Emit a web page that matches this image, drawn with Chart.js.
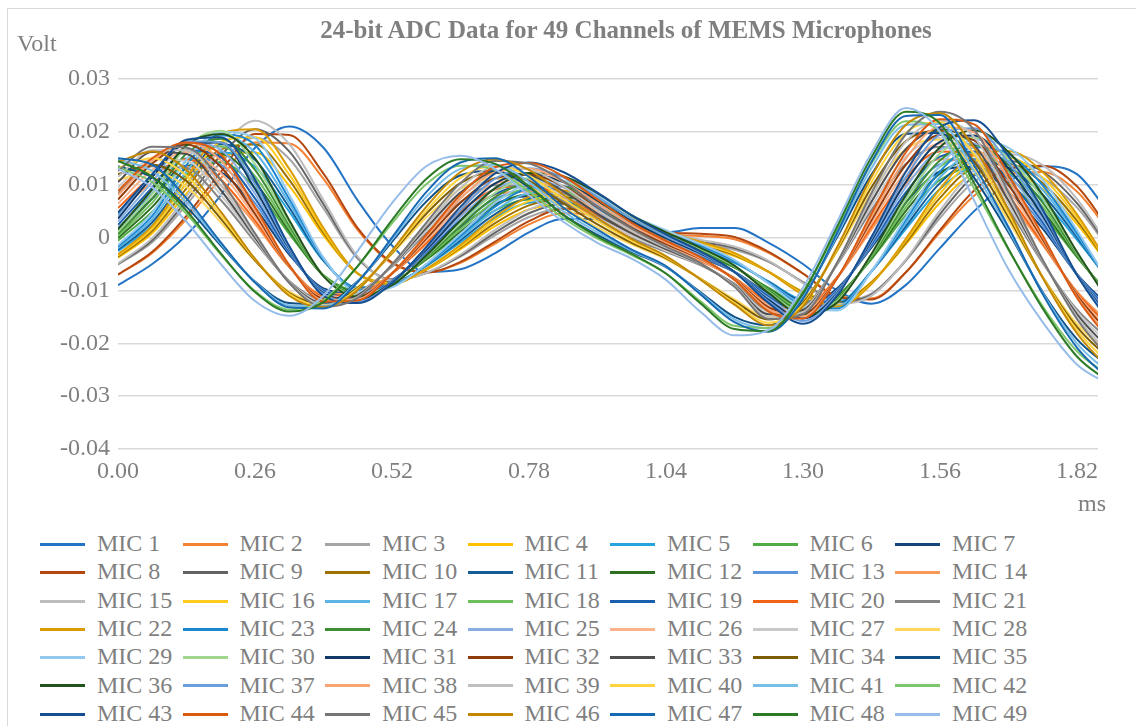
<!DOCTYPE html>
<html>
<head>
<meta charset="utf-8">
<title>24-bit ADC Data for 49 Channels of MEMS Microphones</title>
<script src="https://cdn.jsdelivr.net/npm/chart.js"></script>
<style>
    body { margin: 0; background: #fff; }
    #wrap { position: relative; width: 1136px; height: 726px; overflow: hidden; font-family: "Liberation Serif", serif; color: #7f7f7f; }
    #frame { position: absolute; left: 7px; top: 8px; width: 1300px; height: 900px; border-left: 1px solid #d9d9d9; border-top: 1px solid #d9d9d9; }
    #chart { position: absolute; left: 0; top: 0; }
    #title { position: absolute; left: 0; top: 16px; width: 1252px; text-align: center; font-weight: bold; font-size: 25px; line-height: 28px; white-space: nowrap; }
    #yUnit { position: absolute; left: 17px; top: 29px; font-size: 24px; line-height: 28px; }
    #xUnit { position: absolute; left: 1078px; top: 489px; font-size: 24px; line-height: 28px; }
    .item { position: absolute; height: 26px; line-height: 26px; font-size: 24px; white-space: nowrap; }
    .swatch { display: inline-block; width: 45px; height: 3px; vertical-align: middle; margin-right: 12px; position: relative; top: -1px; }
</style>
</head>
<body>
<div id="wrap">
    <div id="frame"></div>
    <canvas id="chart" width="1136" height="500"></canvas>
    <div id="title">24-bit ADC Data for 49 Channels of MEMS Microphones</div>
    <div id="yUnit">Volt</div>
    <div id="xUnit">ms</div>
    <div id="legend"></div>
</div>
<script>
const timeMs = [0, 0.065, 0.13, 0.195, 0.26, 0.325, 0.39, 0.455, 0.52, 0.585, 0.65, 0.715, 0.78, 0.845, 0.91, 0.975, 1.04, 1.105, 1.17, 1.235, 1.3, 1.365, 1.43, 1.495, 1.56, 1.625, 1.69, 1.755, 1.82, 1.885];
const xTickValues = [0, 0.26, 0.52, 0.78, 1.04, 1.30, 1.56, 1.82];
const yTickValues = [-0.04, -0.03, -0.02, -0.01, 0, 0.01, 0.02, 0.03];

const MIC_1 = [-0.0090,-0.0050,0.0005,0.0080,0.0170,0.0210,0.0170,0.0070,-0.0015,-0.0065,-0.0060,-0.0030,0.0010,0.0035,0.0035,0.0015,0.0010,0.0018,0.0018,-0.0010,-0.0050,-0.0100,-0.0125,-0.0090,-0.0020,0.0050,0.0105,0.0135,0.0120,0.0040];
const MIC_2 = [-0.0070,-0.0029,0.0035,0.0112,0.0180,0.0178,0.0111,0.0014,-0.0049,-0.0066,-0.0048,-0.0012,0.0025,0.0046,0.0042,0.0017,0.0006,0.0003,-0.0003,-0.0029,-0.0068,-0.0110,-0.0115,-0.0066,0.0010,0.0079,0.0119,0.0124,0.0087,0.0006];
const MIC_3 = [-0.0051,-0.0009,0.0062,0.0142,0.0189,0.0149,0.0055,-0.0040,-0.0079,-0.0067,-0.0036,0.0004,0.0039,0.0056,0.0048,0.0019,0.0001,-0.0012,-0.0023,-0.0046,-0.0084,-0.0119,-0.0106,-0.0044,0.0037,0.0106,0.0132,0.0113,0.0057,-0.0027];
const MIC_4 = [-0.0038,0.0008,0.0083,0.0152,0.0161,0.0098,0.0004,-0.0068,-0.0084,-0.0061,-0.0022,0.0021,0.0053,0.0063,0.0049,0.0019,-0.0001,-0.0018,-0.0035,-0.0065,-0.0102,-0.0121,-0.0084,-0.0013,0.0066,0.0120,0.0126,0.0092,0.0026,-0.0059];
const MIC_5 = [-0.0026,0.0023,0.0102,0.0162,0.0134,0.0049,-0.0044,-0.0094,-0.0088,-0.0054,-0.0009,0.0037,0.0066,0.0069,0.0049,0.0018,-0.0004,-0.0024,-0.0048,-0.0083,-0.0118,-0.0122,-0.0064,0.0016,0.0092,0.0131,0.0120,0.0071,-0.0004,-0.0087];
const MIC_6 = [-0.0006,0.0049,0.0119,0.0143,0.0094,0.0007,-0.0071,-0.0100,-0.0084,-0.0042,0.0006,0.0051,0.0072,0.0068,0.0044,0.0014,-0.0010,-0.0031,-0.0057,-0.0095,-0.0126,-0.0109,-0.0041,0.0042,0.0109,0.0133,0.0102,0.0043,-0.0037,-0.0112];
const MIC_7 = [0.0013,0.0074,0.0136,0.0124,0.0056,-0.0032,-0.0096,-0.0106,-0.0080,-0.0032,0.0020,0.0063,0.0078,0.0066,0.0039,0.0008,-0.0016,-0.0038,-0.0065,-0.0106,-0.0133,-0.0096,-0.0019,0.0066,0.0125,0.0134,0.0086,0.0017,-0.0069,-0.0135];
const MIC_8 = [-0.0070,-0.0027,0.0041,0.0124,0.0196,0.0194,0.0121,0.0018,-0.0047,-0.0066,-0.0046,-0.0008,0.0031,0.0054,0.0048,0.0023,0.0010,0.0007,0.0001,-0.0027,-0.0068,-0.0112,-0.0117,-0.0066,0.0014,0.0089,0.0131,0.0136,0.0097,0.0010];
const MIC_9 = [-0.0050,-0.0005,0.0070,0.0155,0.0205,0.0163,0.0063,-0.0038,-0.0080,-0.0067,-0.0034,0.0009,0.0046,0.0064,0.0055,0.0025,0.0005,-0.0008,-0.0020,-0.0045,-0.0085,-0.0122,-0.0108,-0.0043,0.0044,0.0117,0.0145,0.0125,0.0065,-0.0025];
const MIC_10 = [-0.0036,0.0013,0.0093,0.0167,0.0176,0.0109,0.0009,-0.0068,-0.0085,-0.0060,-0.0019,0.0027,0.0061,0.0072,0.0056,0.0025,0.0003,-0.0015,-0.0033,-0.0065,-0.0104,-0.0124,-0.0085,-0.0010,0.0075,0.0132,0.0139,0.0103,0.0032,-0.0058];
const MIC_11 = [-0.0023,0.0029,0.0113,0.0177,0.0147,0.0057,-0.0043,-0.0096,-0.0090,-0.0053,-0.0005,0.0044,0.0075,0.0079,0.0057,0.0024,0.0001,-0.0021,-0.0046,-0.0084,-0.0121,-0.0126,-0.0064,0.0021,0.0103,0.0145,0.0132,0.0081,0.0001,-0.0089];
const MIC_12 = [-0.0001,0.0058,0.0132,0.0158,0.0105,0.0012,-0.0072,-0.0102,-0.0085,-0.0041,0.0011,0.0060,0.0082,0.0078,0.0052,0.0019,-0.0006,-0.0029,-0.0056,-0.0097,-0.0130,-0.0112,-0.0039,0.0050,0.0121,0.0147,0.0114,0.0050,-0.0035,-0.0115];
const MIC_13 = [0.0018,0.0084,0.0150,0.0138,0.0065,-0.0029,-0.0099,-0.0109,-0.0081,-0.0030,0.0026,0.0073,0.0089,0.0076,0.0047,0.0014,-0.0012,-0.0036,-0.0065,-0.0109,-0.0138,-0.0099,-0.0016,0.0076,0.0139,0.0149,0.0098,0.0023,-0.0070,-0.0140];
const MIC_14 = [0.0048,0.0104,0.0134,0.0099,0.0026,-0.0056,-0.0107,-0.0105,-0.0068,-0.0013,0.0043,0.0081,0.0087,0.0068,0.0036,0.0004,-0.0022,-0.0045,-0.0076,-0.0120,-0.0131,-0.0075,0.0015,0.0101,0.0148,0.0140,0.0071,-0.0014,-0.0102,-0.0165];
const MIC_15 = [-0.0049,-0.0001,0.0078,0.0168,0.0221,0.0177,0.0071,-0.0036,-0.0081,-0.0067,-0.0032,0.0014,0.0053,0.0072,0.0062,0.0031,0.0009,-0.0004,-0.0017,-0.0044,-0.0086,-0.0125,-0.0110,-0.0042,0.0051,0.0128,0.0158,0.0137,0.0073,-0.0023];
const MIC_16 = [-0.0034,0.0017,0.0103,0.0181,0.0190,0.0119,0.0013,-0.0068,-0.0087,-0.0060,-0.0017,0.0033,0.0069,0.0080,0.0064,0.0031,0.0007,-0.0011,-0.0031,-0.0065,-0.0106,-0.0128,-0.0087,-0.0006,0.0083,0.0144,0.0151,0.0113,0.0038,-0.0058];
const MIC_17 = [-0.0020,0.0035,0.0125,0.0193,0.0161,0.0065,-0.0041,-0.0098,-0.0091,-0.0052,-0.0001,0.0051,0.0084,0.0088,0.0065,0.0030,0.0005,-0.0018,-0.0045,-0.0085,-0.0125,-0.0130,-0.0064,0.0027,0.0114,0.0158,0.0145,0.0090,0.0005,-0.0090];
const MIC_18 = [0.0003,0.0066,0.0145,0.0173,0.0116,0.0017,-0.0072,-0.0105,-0.0086,-0.0039,0.0016,0.0068,0.0092,0.0087,0.0060,0.0025,-0.0002,-0.0026,-0.0055,-0.0099,-0.0134,-0.0115,-0.0037,0.0057,0.0134,0.0161,0.0126,0.0058,-0.0033,-0.0118];
const MIC_19 = [0.0024,0.0095,0.0165,0.0152,0.0074,-0.0027,-0.0101,-0.0112,-0.0082,-0.0027,0.0033,0.0082,0.0099,0.0085,0.0054,0.0019,-0.0009,-0.0034,-0.0065,-0.0112,-0.0143,-0.0101,-0.0012,0.0085,0.0153,0.0163,0.0109,0.0029,-0.0070,-0.0145];
const MIC_20 = [0.0056,0.0116,0.0148,0.0110,0.0032,-0.0055,-0.0110,-0.0108,-0.0068,-0.0010,0.0050,0.0091,0.0098,0.0078,0.0043,0.0009,-0.0019,-0.0043,-0.0077,-0.0124,-0.0135,-0.0075,0.0021,0.0113,0.0163,0.0155,0.0080,-0.0011,-0.0104,-0.0172];
const MIC_21 = [0.0084,0.0135,0.0131,0.0071,-0.0008,-0.0082,-0.0117,-0.0104,-0.0055,0.0008,0.0067,0.0099,0.0096,0.0069,0.0032,-0.0001,-0.0027,-0.0052,-0.0087,-0.0136,-0.0129,-0.0051,0.0052,0.0139,0.0172,0.0146,0.0054,-0.0048,-0.0136,-0.0197];
const MIC_22 = [-0.0032,0.0022,0.0113,0.0196,0.0205,0.0130,0.0018,-0.0068,-0.0088,-0.0059,-0.0014,0.0039,0.0077,0.0089,0.0071,0.0037,0.0011,-0.0008,-0.0029,-0.0065,-0.0108,-0.0131,-0.0088,-0.0003,0.0092,0.0156,0.0164,0.0124,0.0044,-0.0057];
const MIC_23 = [-0.0017,0.0041,0.0137,0.0195,0.0175,0.0073,-0.0039,-0.0100,-0.0092,-0.0051,0.0003,0.0058,0.0093,0.0097,0.0073,0.0036,0.0009,-0.0015,-0.0044,-0.0086,-0.0129,-0.0134,-0.0064,0.0033,0.0125,0.0171,0.0158,0.0099,0.0009,-0.0091];
const MIC_24 = [0.0007,0.0074,0.0159,0.0187,0.0128,0.0023,-0.0072,-0.0107,-0.0088,-0.0037,0.0022,0.0076,0.0102,0.0097,0.0068,0.0031,0.0002,-0.0024,-0.0055,-0.0101,-0.0138,-0.0117,-0.0035,0.0065,0.0146,0.0175,0.0138,0.0066,-0.0031,-0.0122];
const MIC_25 = [0.0030,0.0105,0.0180,0.0166,0.0083,-0.0024,-0.0103,-0.0115,-0.0083,-0.0025,0.0039,0.0092,0.0110,0.0095,0.0062,0.0025,-0.0005,-0.0032,-0.0065,-0.0115,-0.0148,-0.0103,-0.0009,0.0095,0.0167,0.0178,0.0120,0.0035,-0.0070,-0.0150];
const MIC_26 = [0.0064,0.0128,0.0162,0.0122,0.0039,-0.0054,-0.0113,-0.0111,-0.0068,-0.0006,0.0058,0.0102,0.0109,0.0087,0.0050,0.0014,-0.0016,-0.0042,-0.0078,-0.0128,-0.0140,-0.0076,0.0027,0.0125,0.0178,0.0170,0.0090,-0.0007,-0.0107,-0.0179];
const MIC_27 = [0.0095,0.0148,0.0145,0.0081,-0.0004,-0.0083,-0.0121,-0.0106,-0.0054,0.0013,0.0076,0.0111,0.0107,0.0079,0.0038,0.0004,-0.0025,-0.0051,-0.0089,-0.0140,-0.0133,-0.0050,0.0060,0.0153,0.0189,0.0160,0.0062,-0.0046,-0.0140,-0.0206];
const MIC_28 = [0.0109,0.0125,0.0096,0.0029,-0.0044,-0.0102,-0.0122,-0.0093,-0.0031,0.0038,0.0092,0.0112,0.0096,0.0057,0.0019,-0.0013,-0.0041,-0.0077,-0.0117,-0.0150,-0.0120,-0.0026,0.0085,0.0167,0.0185,0.0130,0.0032,-0.0074,-0.0163,-0.0223];
const MIC_29 = [-0.0014,0.0047,0.0148,0.0200,0.0188,0.0081,-0.0038,-0.0102,-0.0094,-0.0050,0.0007,0.0065,0.0102,0.0107,0.0081,0.0042,0.0014,-0.0012,-0.0042,-0.0087,-0.0132,-0.0138,-0.0064,0.0038,0.0136,0.0185,0.0170,0.0109,0.0014,-0.0093];
const MIC_30 = [0.0011,0.0082,0.0172,0.0202,0.0139,0.0028,-0.0072,-0.0110,-0.0089,-0.0035,0.0027,0.0084,0.0112,0.0106,0.0076,0.0037,0.0006,-0.0021,-0.0054,-0.0103,-0.0142,-0.0120,-0.0033,0.0072,0.0159,0.0189,0.0150,0.0074,-0.0029,-0.0125];
const MIC_31 = [0.0036,0.0115,0.0178,0.0180,0.0092,-0.0021,-0.0105,-0.0118,-0.0084,-0.0023,0.0045,0.0102,0.0121,0.0105,0.0070,0.0031,-0.0001,-0.0030,-0.0065,-0.0118,-0.0153,-0.0105,-0.0006,0.0105,0.0181,0.0193,0.0131,0.0041,-0.0070,-0.0155];
const MIC_32 = [0.0072,0.0140,0.0176,0.0134,0.0045,-0.0054,-0.0115,-0.0113,-0.0068,-0.0002,0.0066,0.0112,0.0119,0.0097,0.0058,0.0018,-0.0012,-0.0040,-0.0078,-0.0132,-0.0144,-0.0076,0.0033,0.0137,0.0194,0.0184,0.0100,-0.0003,-0.0109,-0.0185];
const MIC_33 = [0.0105,0.0162,0.0158,0.0090,0,-0.0084,-0.0124,-0.0109,-0.0053,0.0018,0.0085,0.0122,0.0118,0.0088,0.0045,0.0008,-0.0022,-0.0050,-0.0090,-0.0145,-0.0137,-0.0049,0.0068,0.0167,0.0205,0.0175,0.0070,-0.0045,-0.0145,-0.0215];
const MIC_34 = [0.0120,0.0138,0.0107,0.0036,-0.0043,-0.0105,-0.0125,-0.0095,-0.0029,0.0045,0.0103,0.0124,0.0107,0.0065,0.0025,-0.0010,-0.0039,-0.0078,-0.0120,-0.0155,-0.0123,-0.0023,0.0095,0.0182,0.0202,0.0143,0.0039,-0.0075,-0.0169,-0.0233];
const MIC_35 = [0.0135,0.0114,0.0058,-0.0015,-0.0083,-0.0124,-0.0126,-0.0082,-0.0008,0.0068,0.0118,0.0126,0.0095,0.0043,0.0005,-0.0027,-0.0056,-0.0103,-0.0150,-0.0166,-0.0110,0.0001,0.0119,0.0196,0.0198,0.0113,0.0010,-0.0103,-0.0192,-0.0248];
const MIC_36 = [0.0016,0.0091,0.0175,0.0196,0.0150,0.0033,-0.0073,-0.0112,-0.0090,-0.0034,0.0032,0.0093,0.0122,0.0116,0.0084,0.0042,0.0010,-0.0019,-0.0053,-0.0105,-0.0146,-0.0123,-0.0031,0.0080,0.0171,0.0203,0.0162,0.0081,-0.0027,-0.0128];
const MIC_37 = [0.0042,0.0120,0.0182,0.0180,0.0101,-0.0019,-0.0107,-0.0121,-0.0085,-0.0020,0.0052,0.0111,0.0131,0.0114,0.0077,0.0036,0.0002,-0.0028,-0.0065,-0.0121,-0.0158,-0.0107,-0.0002,0.0114,0.0195,0.0207,0.0142,0.0047,-0.0070,-0.0160];
const MIC_38 = [0.0080,0.0145,0.0180,0.0146,0.0052,-0.0053,-0.0118,-0.0116,-0.0068,0.0002,0.0074,0.0123,0.0130,0.0106,0.0065,0.0023,-0.0009,-0.0039,-0.0079,-0.0136,-0.0149,-0.0077,0.0039,0.0149,0.0209,0.0199,0.0110,0.0001,-0.0112,-0.0192];
const MIC_39 = [0.0115,0.0165,0.0165,0.0099,0.0004,-0.0085,-0.0127,-0.0112,-0.0052,0.0023,0.0094,0.0133,0.0129,0.0097,0.0052,0.0012,-0.0019,-0.0049,-0.0091,-0.0150,-0.0141,-0.0048,0.0076,0.0181,0.0221,0.0190,0.0078,-0.0044,-0.0150,-0.0224];
const MIC_40 = [0.0132,0.0150,0.0117,0.0042,-0.0041,-0.0107,-0.0129,-0.0097,-0.0027,0.0051,0.0113,0.0136,0.0117,0.0073,0.0031,-0.0006,-0.0037,-0.0078,-0.0124,-0.0161,-0.0127,-0.0021,0.0105,0.0198,0.0218,0.0157,0.0045,-0.0075,-0.0175,-0.0243];
const MIC_41 = [0.0148,0.0126,0.0066,-0.0012,-0.0084,-0.0128,-0.0130,-0.0083,-0.0004,0.0077,0.0130,0.0138,0.0105,0.0050,0.0010,-0.0025,-0.0055,-0.0105,-0.0155,-0.0172,-0.0113,0.0005,0.0131,0.0213,0.0215,0.0125,0.0015,-0.0105,-0.0200,-0.0260];
const MIC_42 = [0.0133,0.0105,0.0045,-0.0032,-0.0101,-0.0136,-0.0118,-0.0054,0.0027,0.0101,0.0136,0.0128,0.0087,0.0037,-0.0002,-0.0033,-0.0068,-0.0120,-0.0167,-0.0171,-0.0103,0.0015,0.0140,0.0220,0.0200,0.0093,-0.0023,-0.0130,-0.0215,-0.0264];
const MIC_43 = [0.0047,0.0120,0.0185,0.0190,0.0110,-0.0016,-0.0110,-0.0124,-0.0086,-0.0018,0.0058,0.0121,0.0142,0.0124,0.0085,0.0042,0.0006,-0.0026,-0.0065,-0.0124,-0.0163,-0.0110,0.0001,0.0124,0.0209,0.0222,0.0154,0.0053,-0.0071,-0.0165];
const MIC_44 = [0.0088,0.0150,0.0180,0.0157,0.0058,-0.0052,-0.0121,-0.0119,-0.0068,0.0005,0.0081,0.0133,0.0141,0.0116,0.0072,0.0028,-0.0006,-0.0037,-0.0080,-0.0140,-0.0153,-0.0077,0.0045,0.0161,0.0224,0.0214,0.0119,0.0004,-0.0114,-0.0199];
const MIC_45 = [0.0126,0.0172,0.0170,0.0109,0.0008,-0.0086,-0.0131,-0.0114,-0.0051,0.0028,0.0103,0.0145,0.0140,0.0107,0.0058,0.0017,-0.0017,-0.0048,-0.0093,-0.0154,-0.0145,-0.0047,0.0084,0.0195,0.0238,0.0204,0.0086,-0.0042,-0.0154,-0.0233];
const MIC_46 = [0.0143,0.0163,0.0128,0.0049,-0.0040,-0.0110,-0.0132,-0.0099,-0.0025,0.0058,0.0124,0.0148,0.0128,0.0081,0.0037,-0.0003,-0.0035,-0.0079,-0.0127,-0.0166,-0.0130,-0.0018,0.0115,0.0213,0.0235,0.0170,0.0052,-0.0076,-0.0181,-0.0253];
const MIC_47 = [0.0150,0.0138,0.0074,-0.0009,-0.0085,-0.0132,-0.0134,-0.0084,0,0.0086,0.0142,0.0150,0.0115,0.0057,0.0015,-0.0023,-0.0054,-0.0107,-0.0160,-0.0178,-0.0116,0.0009,0.0143,0.0230,0.0232,0.0137,0.0020,-0.0107,-0.0208,-0.0272];
const MIC_48 = [0.0145,0.0115,0.0051,-0.0030,-0.0103,-0.0140,-0.0122,-0.0054,0.0033,0.0111,0.0148,0.0140,0.0097,0.0043,0.0002,-0.0031,-0.0068,-0.0124,-0.0173,-0.0177,-0.0105,0.0021,0.0152,0.0238,0.0216,0.0103,-0.0021,-0.0134,-0.0225,-0.0276];
const MIC_49 = [0.0130,0.0095,0.0030,-0.0050,-0.0120,-0.0148,-0.0110,-0.0025,0.0065,0.0135,0.0155,0.0130,0.0080,0.0030,-0.0010,-0.0040,-0.0080,-0.0140,-0.0185,-0.0175,-0.0095,0.0030,0.0160,0.0245,0.0200,0.0070,-0.0060,-0.0160,-0.0240,-0.0280];

const micColors = [
    "#2474C6", "#F58232", "#A5A5A5", "#FFC000", "#27A3DD", "#4FAD43", "#15467A",
    "#B4470F", "#636363", "#9E7200", "#135E96", "#2E6F22", "#5B96DA", "#F8995A",
    "#BDBDBD", "#FFCB21", "#5DB4E6", "#6DBF5D", "#1A5EAE", "#F26313", "#858585",
    "#DA9C00", "#1C86D0", "#3E8C34", "#86AEE2", "#FBB38C", "#C9C9C9", "#FFD75C",
    "#93C9EE", "#9FD78F", "#103A66", "#8F3B0B", "#4F4F4F", "#7E5C00", "#0F5186",
    "#23531C", "#6A9EDC", "#F9A474", "#BFBFBF", "#FFD43F", "#79BDE9", "#7DC66C",
    "#154F92", "#DA5A10", "#767676", "#C38700", "#1769B2", "#2C7B26", "#96BCEA"
];

const micSeries = [MIC_1, MIC_2, MIC_3, MIC_4, MIC_5, MIC_6, MIC_7, MIC_8, MIC_9, MIC_10,
    MIC_11, MIC_12, MIC_13, MIC_14, MIC_15, MIC_16, MIC_17, MIC_18, MIC_19, MIC_20,
    MIC_21, MIC_22, MIC_23, MIC_24, MIC_25, MIC_26, MIC_27, MIC_28, MIC_29, MIC_30,
    MIC_31, MIC_32, MIC_33, MIC_34, MIC_35, MIC_36, MIC_37, MIC_38, MIC_39, MIC_40,
    MIC_41, MIC_42, MIC_43, MIC_44, MIC_45, MIC_46, MIC_47, MIC_48, MIC_49];

const textColor = "#7f7f7f";
const tickFont = { family: "Liberation Serif", size: 24 };

function buildDatasets() {
    return micSeries.map((values, i) => ({
        label: `MIC ${i + 1}`,
        data: values.map((v, k) => ({ x: timeMs[k], y: v })),
        borderColor: micColors[i],
        backgroundColor: micColors[i],
        borderWidth: 2,
        pointRadius: 0,
        fill: false,
        // Excel puts the last series on top
        order: micSeries.length - 1 - i
    }));
}

function formatVolt(v) {
    let r = Math.round(v * 100) / 100;
    return r === 0 ? "0" : r.toFixed(2);
}

function buildLegend(chart) {
    let box = document.getElementById("legend");
    box.innerHTML = "";
    chart.data.datasets.forEach((ds, i) => {
        let col = i % 7;
        let row = Math.floor(i / 7);
        let item = document.createElement("div");
        item.className = "item";
        item.style.left = (40 + col * 142.5) + "px";
        item.style.top = (530 + row * 28.3) + "px";
        item.innerHTML = `<span class="swatch" style="background:${ds.borderColor}"></span>${ds.label}`;
        box.appendChild(item);
    });
}

const chart = new Chart(document.getElementById("chart"), {
    type: "line",
    data: { datasets: buildDatasets() },
    options: {
        responsive: false,
        animation: false,
        devicePixelRatio: 1,
        layout: { padding: { top: 79, right: 38, bottom: 0, left: 0 } },
        plugins: {
            legend: { display: false },
            title: { display: false },
            tooltip: { enabled: false }
        },
        elements: {
            line: { cubicInterpolationMode: "monotone" },
            point: { radius: 0 }
        },
        scales: {
            x: {
                type: "linear",
                min: 0,
                max: 1.86,
                grid: { display: false, drawTicks: false },
                border: { display: false },
                afterBuildTicks: axis => { axis.ticks = xTickValues.map(v => ({ value: v })); },
                afterFit: axis => { axis.height = 51; },
                ticks: {
                    color: textColor,
                    font: tickFont,
                    padding: 8,
                    maxRotation: 0,
                    autoSkip: false,
                    callback: v => v.toFixed(2)
                }
            },
            y: {
                min: -0.04,
                max: 0.03,
                border: { display: false },
                grid: { color: "#d9d9d9", lineWidth: 1.5, drawTicks: false },
                afterBuildTicks: axis => { axis.ticks = yTickValues.map(v => ({ value: v })); },
                afterFit: axis => { axis.width = 118; },
                ticks: {
                    color: textColor,
                    font: tickFont,
                    padding: 8,
                    callback: v => formatVolt(v)
                }
            }
        }
    }
});

buildLegend(chart);
</script>
</body>
</html>
